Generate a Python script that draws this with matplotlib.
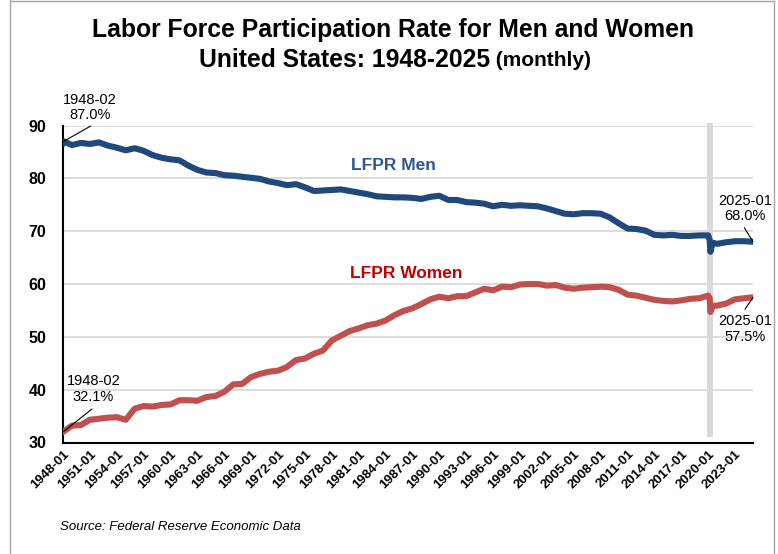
import matplotlib
matplotlib.use('Agg')
import matplotlib.pyplot as plt
from matplotlib.lines import Line2D

plt.rcParams['font.family'] = ['Liberation Sans', 'DejaVu Sans']

# ---------------- data ----------------
dates = ["1948-01", "1948-02"] + [f"{y}-01" for y in range(1949, 2021)] + \
        ["2020-03", "2020-04", "2020-07"] + [f"{y}-01" for y in range(2021, 2026)]

men = [86.7, 87.0, 86.3, 86.7, 86.5, 86.8, 86.2, 85.8, 85.3, 85.7,
       85.2, 84.4, 83.9, 83.6, 83.4, 82.4, 81.6, 81.1, 81.0, 80.6,
       80.5, 80.3, 80.1, 79.9, 79.4, 79.1, 78.7, 78.9, 78.3, 77.6,
       77.7, 77.8, 77.9, 77.6, 77.3, 77.0, 76.6, 76.5, 76.4, 76.4,
       76.3, 76.1, 76.5, 76.7, 75.9, 75.9, 75.5, 75.4, 75.2, 74.7,
       75.0, 74.8, 74.9, 74.8, 74.7, 74.3, 73.8, 73.3, 73.2, 73.4,
       73.4, 73.3, 72.6, 71.5, 70.5, 70.4, 70.1, 69.3, 69.2, 69.3,
       69.1, 69.1, 69.2, 69.2,
       68.3, 66.1, 67.8,
       67.6, 67.9, 68.1, 68.1, 68.0]

women = [32.0, 32.1, 33.2, 33.3, 34.3, 34.5, 34.7, 34.8, 34.3, 36.4,
         36.9, 36.8, 37.1, 37.2, 38.0, 38.0, 37.9, 38.6, 38.8, 39.6,
         41.0, 41.1, 42.4, 43.0, 43.4, 43.6, 44.3, 45.6, 45.9, 46.8,
         47.4, 49.3, 50.2, 51.1, 51.6, 52.2, 52.5, 53.1, 54.1, 54.9,
         55.4, 56.2, 57.1, 57.6, 57.3, 57.7, 57.7, 58.4, 59.1, 58.8,
         59.5, 59.4, 59.9, 60.0, 60.0, 59.7, 59.8, 59.3, 59.1, 59.3,
         59.4, 59.5, 59.4, 58.9, 58.0, 57.8, 57.4, 57.0, 56.8, 56.7,
         56.9, 57.2, 57.3, 57.8,
         57.3, 54.7, 55.9,
         55.9, 56.3, 57.1, 57.3, 57.5]

tick_years = list(range(1948, 2024, 3))
tick_labels = [f"{y}-01" for y in tick_years]
yticks = [30, 40, 50, 60, 70, 80, 90]

recession = ("2019-11", "2020-07")

annotations = [
    ("1948-02\n87.0%", "1948-02", 87.0, (90, 107.5), (90.7, 126)),
    ("1948-02\n32.1%", "1948-02", 32.1, (93.5, 389), (92, 409)),
    ("2025-01\n68.0%", "2025-01", 68.0, (745, 208.5), (744.3, 227.7)),
    ("2025-01\n57.5%", "2025-01", 57.5, (745, 329), (745, 309.3)),
]


def ym(s):
    y, m = s.split('-')
    return int(y) + (int(m) - 1) / 12.0


W, H = 778, 554
x = [ym(d) for d in dates]

fig = plt.figure(figsize=(W / 100, H / 100), dpi=100)
ax = fig.add_axes([63 / W, 1 - 442.5 / H, (753 - 63) / W, (442.5 - 125.5) / H])
ax.set_xlim(ym("1948-01"), ym("2025-01"))
ax.set_ylim(30, 90)

ax.yaxis.grid(True, color='#D9D9D9', lw=1.3)
ax.set_axisbelow(True)
for s in ['top', 'right']:
    ax.spines[s].set_visible(False)
for s in ['left', 'bottom']:
    ax.spines[s].set_linewidth(1.5)
    ax.spines[s].set_color('black')

ax.set_yticks(yticks)
ax.set_yticklabels([str(v) for v in yticks], fontsize=11.5, fontweight='bold')
ax.set_xticks(tick_years)
ax.set_xticklabels(tick_labels, fontsize=9.5, fontweight='bold', rotation=45,
                   ha='right', rotation_mode='anchor')
ax.tick_params(axis='both', length=0)
ax.tick_params(axis='y', pad=12)
ax.tick_params(axis='x', pad=4)

ax.axvspan(ym(recession[0]), ym(recession[1]), ymin=0.017, ymax=1.008,
           color='#D9D9D9', lw=0, zorder=1, clip_on=False)

ax.plot(x, men, color='#1F497D', lw=4.4, solid_joinstyle='round', zorder=3)
ax.plot(x, women, color='#C0504D', lw=4.4, solid_joinstyle='round', zorder=3)

for txt, d, v, (tx, ty), (lx, ly) in annotations:
    fig.text(tx / W, 1 - ty / H, txt, ha='center', va='center', fontsize=10.5,
             linespacing=1.15, multialignment='center')
    ax.annotate('', xy=(ym(d), v), xytext=(lx, H - ly), textcoords='figure pixels',
                arrowprops=dict(arrowstyle='-', lw=0.8, color='black',
                                shrinkA=0, shrinkB=0))

fig.text(393 / W, 1 - 166 / H, "LFPR Men", color='#2F5597', fontsize=12.5,
         fontweight='bold', ha='center', va='center')
fig.text(406 / W, 1 - 274 / H, "LFPR Women", color='#C00000', fontsize=12.5,
         fontweight='bold', ha='center', va='center')

# title
fig.text(393 / W, 1 - 30 / H, "Labor Force Participation Rate for Men and Women",
         ha='center', va='center', fontsize=17.8, fontweight='bold')
t1 = fig.text(0, 1 - 60 / H, "United States: 1948-2025", ha='left', va='center',
              fontsize=17.8, fontweight='bold')
t2 = fig.text(0, 1 - 60 / H, " (monthly)", ha='left', va='center',
              fontsize=15, fontweight='bold')
fig.canvas.draw()
r = fig.canvas.get_renderer()
w1 = t1.get_window_extent(r).width
w2 = t2.get_window_extent(r).width
x0 = 395 - (w1 + w2) / 2
t1.set_x(x0 / W)
t2.set_x((x0 + w1) / W)

fig.text(60 / W, 1 - 527 / H, "Source: Federal Reserve Economic Data",
         fontsize=9.5, style='italic', ha='left', va='center')

# figure frame
for (xa, ya, xb, yb) in [(10, 0, 10, 554), (10, 1, 774, 1), (774, 1, 774, 554)]:
    fig.add_artist(Line2D([xa / W, xb / W], [1 - ya / H, 1 - yb / H],
                          transform=fig.transFigure, color='#A6A6A6', lw=1))

fig.savefig('out.png', dpi=100)
